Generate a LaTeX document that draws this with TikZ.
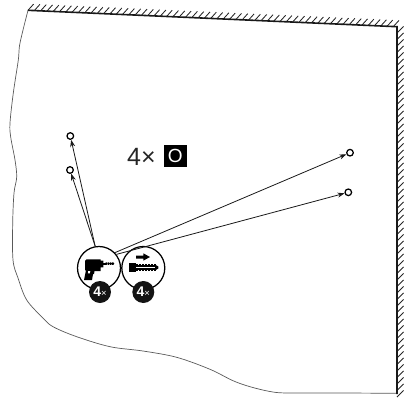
\documentclass[tikz,border=0pt]{standalone}
\usepackage{fontspec}
\setmainfont{Liberation Sans}
\usetikzlibrary{arrows.meta}
\tikzset{
  wall/.style={line width=1.6pt,color=black!90},
  hatch/.style={line width=0.85pt,color=black!85},
  edge/.style={line width=0.7pt,color=black!65},
  holemark/.style={circle,draw=black,line width=1.25pt,fill=white,minimum size=6.6pt,inner sep=0pt},
  toolring/.style={circle,draw=black,line width=1.25pt,fill=white,minimum size=43pt,inner sep=0pt},
  countbadge/.style={circle,fill=black!92,minimum size=22pt,inner sep=0pt,text=white},
  drillline/.style={line width=0.8pt,color=black!90,-{Stealth[length=7pt,width=5pt]}},
  iconfill/.style={fill=black,draw=none}
}
\newcommand{\countlabel}{\fontsize{14}{14}\selectfont\bfseries 4\fontsize{9.5}{9.5}\selectfont\mdseries ×}
\begin{document}
\begin{tikzpicture}[x=1pt,y=-1pt]
\useasboundingbox (0,0) rectangle (410,397);
% hatching
\foreach \i in {0,...,58}{
  \pgfmathsetmacro{\hx}{28+\i*6.3}
  \pgfmathsetmacro{\hy}{10.3+(\hx-28)*16.4/369}
  \draw[hatch] (\hx,\hy) -- ++(5.6,-6.2);
}
\foreach \i in {0,...,56}{
  \pgfmathsetmacro{\hy}{33+\i*6.5}
  \draw[hatch] (397,\hy) -- ++(6.6,-6.6);
}
% wall outline
\draw[edge,line join=round] plot[smooth,tension=0.55] coordinates {
 (28,10.3) (20,43) (18.3,60) (13.3,93) (10,123) (10.7,137) (15,160) (16.7,177) (14,193)
 (12.7,223) (13,260) (18,278) (26.7,300) (43,318) (53,326.7) (76.7,336.7) (110,346.7)
 (143,351) (176.7,357.3) (210,369.3) (233,380.7) (250,386.7) (270,391.5) (287,393) (340,393) (397,393.3)};
\draw[wall,line join=miter] (28,10.3) -- (397,26.7) -- (397,394);
% tools
\node[toolring] (drill) at (99,268) {};
\node[toolring] (anchor) at (143.3,268) {};
\node[countbadge] (badgea) at (100,292) {\countlabel};
\node[countbadge] (badgeb) at (143.3,292) {\countlabel};
% holes
\node[holemark] (h1) at (70.3,136) {};
\node[holemark] (h2) at (70,170) {};
\node[holemark] (h3) at (350,152.7) {};
\node[holemark] (h4) at (348.3,192.3) {};
\draw[drillline] (drill.100) -- (h1);
\draw[drillline] (drill.100) -- (h2);
\draw[drillline] (drill.44) -- (h3);
\draw[drillline] (drill.38) -- (h4);
% text
\node[inner sep=0pt,anchor=base west,text=black!85] (count) at (127,165) {\fontsize{25}{25}\selectfont 4×};
\node[fill=black,text=white,minimum width=22.7pt,minimum height=22.3pt,inner sep=0pt] (letter) at (175.3,156.2) {\fontsize{19}{19}\selectfont O};
% drill icon
\fill[iconfill] (86.5,259.3) -- (100.7,259.3) -- (100.7,260.7) -- (103.3,260.7) -- (103.3,267.3) -- (100.7,267.3) -- (100.7,271)
  -- (94.5,271) -- (94,274) -- (93,274) -- (92,280) -- (84,280) -- (85.8,271) -- (85,269.5) -- (85,261) -- cycle;
\fill[white] (88.2,271.2) -- (90.3,271.2) -- (89.8,273.3) -- (87.9,273.3) -- cycle;
\fill[iconfill] (103,262.6) rectangle (105.5,264.6);
\foreach \k in {0,...,3}{
  \fill[iconfill] (105.5+\k*2.2,262.3) -- (106.6+\k*2.2,262.3) -- (107.7+\k*2.2,263.6) -- (106.6+\k*2.2,264.9) -- (105.5+\k*2.2,264.9) -- cycle;
}
% anchor icon
\fill[iconfill] (136,255.5) -- (143.3,255.5) -- (143.3,253.3) -- (150,257) -- (143.3,260.7) -- (143.3,258.5) -- (136,258.5) -- cycle;
\fill[iconfill] (129.3,263.3) rectangle (135.5,271.7);
\fill[iconfill] (135.5,265) rectangle (156,270);
\foreach \k in {0,...,6}{
  \fill[iconfill] (136.2+\k*3,263.6) rectangle (138.2+\k*3,271.4);
}
\fill[iconfill] (155.5,264.8) -- (158.3,266.5) -- (158.3,268.5) -- (155.5,270.2) -- cycle;
\fill[white] (136,266.7) rectangle (155,268.1);
\end{tikzpicture}
\end{document}
